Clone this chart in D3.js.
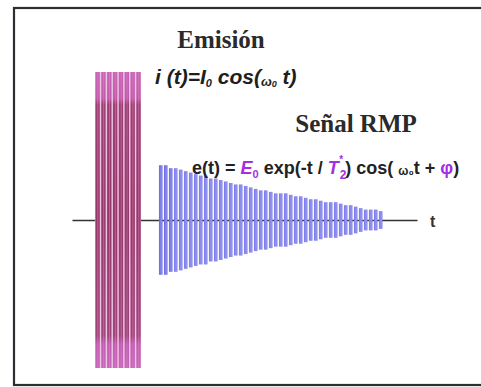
<!DOCTYPE html>
<html><head><meta charset="utf-8">
<script src="https://cdn.jsdelivr.net/npm/d3@7"></script>
<style>body{margin:0;background:#fff}svg{display:block}</style>
</head><body>
<script>
// Emission pulse: constant amplitude stripes (units: I0 = 100)
const emissionAmplitude = [100,100,100,100,100,100,100,100];
const emissionSpan = [6.7, 20.0];          // time units
// RMP signal: decaying envelope
const signalAmplitude = [37,37,35,35,34,33,32,31,30,30,28,28,27,26,25,24,24,23,22,21,20,20,19,18,18,18,17,16,16,15,14,14,13,12,12,12,11,10,10,9,8,7,7,7,6];
const signalSpan = [25.2, 90.0];
const timeDomain = [0, 100];
const ampDomain = [-100, 100];
const axisLabel = "t";

const W = 481, H = 387;
const svg = d3.select("body").append("svg").attr("width", W).attr("height", H);
const defs = svg.append("defs");

// frame
svg.append("rect").attr("x",14).attr("y",8).attr("width",W).attr("height",377)
  .attr("fill","#fff").attr("stroke","#2b2f33").attr("stroke-width",2.2);

const x = d3.scaleLinear().domain(timeDomain).range([72, 417]);
const y = d3.scaleLinear().domain(ampDomain).range([368, 72]);

// axis line
const axis = d3.axisBottom(x).tickValues([]).tickSizeOuter(0);
const ag = svg.append("g").attr("transform", `translate(0,${y(0)})`).call(axis);
ag.select(".domain").attr("stroke","#333").attr("stroke-width",1.4);
svg.append("text").attr("x", 430).attr("y", y(0)+7)
  .attr("font-family","Liberation Sans, Arial, sans-serif").attr("font-size",16).attr("font-weight","bold")
  .attr("fill","#333").text(axisLabel);

// gradient for emission
const g1 = defs.append("linearGradient").attr("id","emg").attr("x1",0).attr("x2",0).attr("y1",0).attr("y2",1);
[[0,"#c865b8"],[0.09,"#c25aa8"],[0.11,"#9e3e72"],[0.5,"#973868"],[0.89,"#a04479"],[0.92,"#c25cb2"],[1,"#c866ba"]]
  .forEach(([o,c])=>g1.append("stop").attr("offset",o).attr("stop-color",c));

// emission block
const xe = d3.scaleBand().domain(d3.range(emissionAmplitude.length))
  .range([x(emissionSpan[0]), x(emissionSpan[1])]).paddingInner(0.25).paddingOuter(0.05);
svg.append("rect").attr("x", x(emissionSpan[0])).attr("y", y(100))
  .attr("width", x(emissionSpan[1])-x(emissionSpan[0])).attr("height", y(-100)-y(100))
  .attr("fill","#ecc4e4");
svg.append("g").selectAll("rect").data(emissionAmplitude).join("rect")
  .attr("x",(d,i)=>xe(i)).attr("width",xe.bandwidth())
  .attr("y",d=>y(d)).attr("height",d=>y(-d)-y(d))
  .attr("fill","url(#emg)");
svg.append("g").selectAll("line").data(emissionAmplitude).join("line")
  .attr("x1",(d,i)=>xe(i)+xe.bandwidth()*0.55).attr("x2",(d,i)=>xe(i)+xe.bandwidth()*0.55)
  .attr("y1",d=>y(d)).attr("y2",d=>y(-d))
  .attr("stroke","#d890c8").attr("stroke-width",0.8).attr("opacity",0.6);

// signal stripes
const xs = d3.scaleBand().domain(d3.range(signalAmplitude.length))
  .range([x(signalSpan[0]), x(signalSpan[1])]).paddingInner(0.28).paddingOuter(0);
svg.append("g").selectAll("rect").data(signalAmplitude).join("rect")
  .attr("x",(d,i)=>xs(i)).attr("width",xs.bandwidth())
  .attr("y",d=>y(d)).attr("height",d=>y(-d)-y(d))
  .attr("fill",(d,i)=> i<3 ? "#7070e2" : "#8080ea");
svg.append("g").selectAll("line").data(signalAmplitude).join("line")
  .attr("x1",(d,i)=>xs(i)+xs.bandwidth()*0.6).attr("x2",(d,i)=>xs(i)+xs.bandwidth()*0.6)
  .attr("y1",d=>y(d)).attr("y2",d=>y(-d))
  .attr("stroke","#b0b0f2").attr("stroke-width",0.6);

// texts
const serif = "Liberation Serif, Times New Roman, serif";
const sans = "Liberation Sans, Arial, sans-serif";
svg.append("text").attr("x",221).attr("y",48).attr("text-anchor","middle")
  .attr("font-family",serif).attr("font-weight","bold").attr("font-size",25).attr("fill","#2a2a2a").text("Emisión");
svg.append("text").attr("x",356).attr("y",132).attr("text-anchor","middle")
  .attr("font-family",serif).attr("font-weight","bold").attr("font-size",25).attr("fill","#2a2a2a").text("Señal RMP");

const t1 = svg.append("text").attr("x",155).attr("y",84)
  .attr("font-family",sans).attr("font-weight","bold").attr("font-style","italic").attr("font-size",21).attr("fill","#1e1e1e");
t1.append("tspan").text("i (t)=");
t1.append("tspan").text("I");
t1.append("tspan").attr("font-size",11).attr("dy",3).text("0");
t1.append("tspan").attr("dy",-3).text(" cos(");
t1.append("tspan").attr("font-size",13).attr("dy",2).text("ω");
t1.append("tspan").attr("font-size",9).attr("dy",1).text("0");
t1.append("tspan").attr("dy",-3).text(" t)");

const purple = "#a42ee0";
const t2 = svg.append("text").attr("x",192).attr("y",174)
  .attr("font-family",sans).attr("font-size",18).attr("font-weight","bold").attr("fill","#222");
t2.append("tspan").text("e(t) = ");
t2.append("tspan").attr("fill",purple).attr("font-style","italic").text("E");
t2.append("tspan").attr("fill",purple).attr("font-size",11).attr("dy",4).text("0");
t2.append("tspan").attr("dy",-4).text("  exp(-t / ");
t2.append("tspan").attr("fill",purple).attr("font-style","italic").text("T");
t2.append("tspan").attr("fill",purple).attr("font-size",12).attr("dy",5).attr("dx",1).text("2");
t2.append("tspan").attr("fill",purple).attr("font-size",10).attr("dy",-16).attr("dx",-7).text("*");
t2.append("tspan").attr("dy",11).attr("dx",2).text(") cos( ");
t2.append("tspan").attr("font-size",12).attr("dy",1).text("ω₀");
t2.append("tspan").attr("dy",-1).text("t + ");
t2.append("tspan").attr("fill",purple).text("φ");
t2.append("tspan").text(")");
</script>
</body></html>
